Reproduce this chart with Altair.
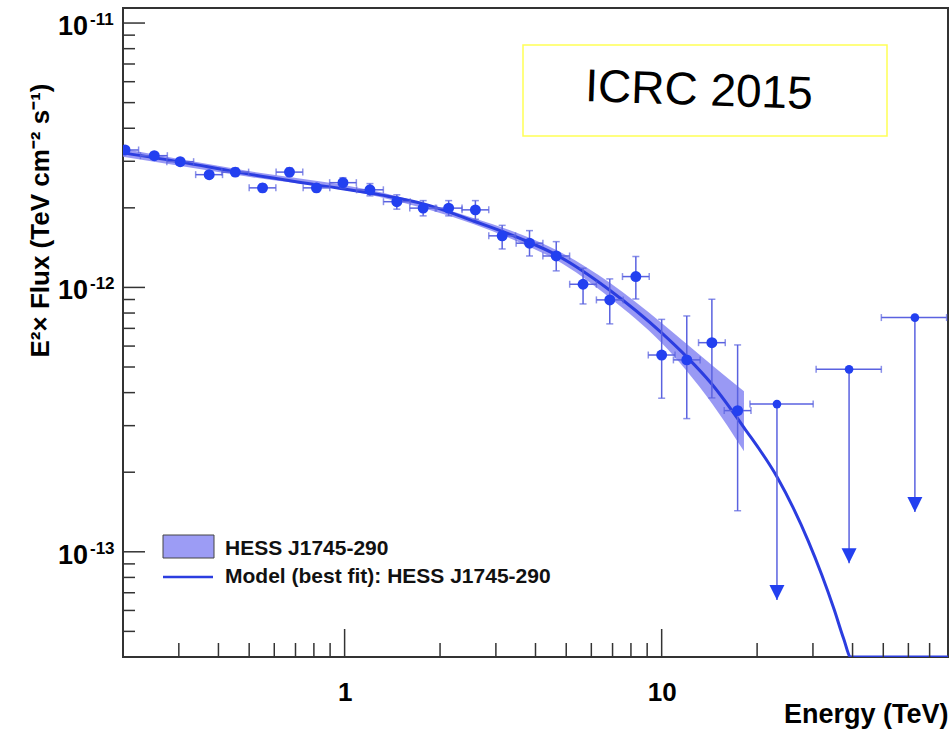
import altair as alt
import pandas as pd

# ---------------- data ----------------
energy = [0.203, 0.251, 0.303, 0.374, 0.452, 0.551, 0.670, 0.815, 0.988, 1.202,
          1.461, 1.769, 2.129, 2.585, 3.14, 3.83, 4.65, 5.65, 6.86, 8.29,
          10.0, 12.0, 14.4, 17.36]
energy_lo = [0.184, 0.227, 0.275, 0.339, 0.410, 0.500, 0.608, 0.740, 0.897, 1.091,
             1.326, 1.605, 1.932, 2.346, 2.849, 3.475, 4.220, 5.127, 6.225, 7.523,
             9.074, 10.89, 13.07, 15.75]
energy_hi = [0.224, 0.276, 0.334, 0.412, 0.498, 0.607, 0.738, 0.898, 1.089, 1.325,
             1.610, 1.949, 2.346, 2.849, 3.460, 4.221, 5.124, 6.226, 7.560, 9.136,
             11.02, 13.22, 15.87, 19.13]
flux = [3.31e-12, 3.15e-12, 2.99e-12, 2.67e-12, 2.73e-12, 2.38e-12, 2.73e-12, 2.38e-12, 2.49e-12, 2.34e-12,
        2.11e-12, 1.995e-12, 1.995e-12, 1.965e-12, 1.567e-12, 1.47e-12, 1.315e-12, 1.028e-12, 8.97e-13, 1.099e-12,
        5.55e-13, 5.32e-13, 6.18e-13, 3.42e-13]
flux_lo = [3.22e-12, 3.07e-12, 2.91e-12, 2.60e-12, 2.64e-12, 2.30e-12, 2.64e-12, 2.30e-12, 2.38e-12, 2.22e-12,
           1.977e-12, 1.865e-12, 1.865e-12, 1.811e-12, 1.398e-12, 1.315e-12, 1.155e-12, 8.66e-13, 7.28e-13, 9.05e-13,
           3.81e-13, 3.19e-13, 3.82e-13, 1.43e-13]
flux_hi = [3.40e-12, 3.23e-12, 3.07e-12, 2.74e-12, 2.83e-12, 2.46e-12, 2.83e-12, 2.46e-12, 2.60e-12, 2.47e-12,
           2.24e-12, 2.13e-12, 2.13e-12, 2.13e-12, 1.717e-12, 1.64e-12, 1.49e-12, 1.182e-12, 1.077e-12, 1.308e-12,
           7.57e-13, 7.80e-13, 9.02e-13, 6.06e-13]

# upper limits
ul_energy = [23.1, 39.0, 62.9]
ul_elo = [18.99, 30.7, 49.3]
ul_ehi = [30.05, 49.3, 79.2]
ul_flux = [3.62e-13, 4.90e-13, 7.69e-13]
ul_tip = [6.57e-14, 9.06e-14, 1.413e-13]

# best-fit model curve (below the frame it runs along the bottom)
curve_energy = [0.200, 0.303, 0.452, 0.815, 1.300, 1.778, 2.560, 3.606, 4.653, 6.845,
                10.0, 12.0, 14.39, 18.18, 23.12, 26.0, 29.0, 32.0, 35.0, 37.5, 39.5, 80.0]
curve_flux = [3.229e-12, 2.985e-12, 2.736e-12, 2.443e-12, 2.239e-12, 2.07e-12, 1.78e-12, 1.526e-12, 1.327e-12, 9.78e-13,
              6.73e-13, 5.46e-13, 4.31e-13, 2.95e-13, 1.918e-13, 1.466e-13, 1.098e-13, 8.17e-14, 6.05e-14, 4.69e-14,
              4.0e-14, 4.0e-14]

# confidence band
band_energy = [0.200, 0.452, 1.300, 2.560, 3.606, 4.653, 6.845, 10.0, 12.0, 14.39, 18.18]
band_lo = [3.119e-12, 2.666e-12, 2.191e-12, 1.733e-12, 1.47e-12, 1.271e-12, 9.165e-13, 6.16e-13, 4.83e-13, 3.65e-13, 2.40e-13]
band_hi = [3.344e-12, 2.808e-12, 2.289e-12, 1.827e-12, 1.585e-12, 1.386e-12, 1.044e-12, 7.34e-13, 6.11e-13, 5.09e-13, 4.05e-13]

# axis ticks
x_major = [1, 10]
x_minor = [0.3, 0.4, 0.5, 0.6, 0.7, 0.8, 0.9, 2, 3, 4, 5, 6, 7, 8, 9, 20, 30, 40, 50, 60, 70]
y_major = [1e-13, 1e-12, 1e-11]
y_major_sup = ["-13", "-12", "-11"]
y_minor = [5e-14, 6e-14, 7e-14, 8e-14, 9e-14,
           2e-13, 3e-13, 4e-13, 5e-13, 6e-13, 7e-13, 8e-13, 9e-13,
           2e-12, 3e-12, 4e-12, 5e-12, 6e-12, 7e-12, 8e-12, 9e-12]

legend_labels = ["HESS J1745-290", "Model (best fit): HESS J1745-290"]
annotation = "ICRC 2015"

# ---------------- styling ----------------
W, H = 825, 649
FONT = "Liberation Sans"
PT_COLOR = "#2340f0"
LINE_COLOR = "#2b3de0"
ERR_COLOR = "#5a62e0"
BAND_COLOR = "#8787f2"
TICK_COLOR = "#333333"

xs = alt.Scale(type="log", domain=[0.2, 80])
ys = alt.Scale(type="log", domain=[4e-14, 1.14e-11], clamp=True)

x_axis = alt.Axis(values=x_major, format="~g", ticks=False, domain=False, grid=False,
                  labelPadding=22, labelFontSize=26, labelFont=FONT, labelFontWeight="bold",
                  labelColor="black", title="Energy (TeV)", titleFont=FONT, titleFontSize=27,
                  titleFontWeight="bold", titleColor="black", titleAnchor="end", titleAlign="right",
                  titleX=W, titleY=65, titleBaseline="alphabetic")
y_axis = alt.Axis(labels=False, ticks=False, domain=False, grid=False,
                  title="E²× Flux (TeV cm⁻² s⁻¹)", titleFont=FONT, titleFontSize=26,
                  titleFontWeight="bold", titleColor="black", titleAngle=270,
                  titleX=-75, titleY=212, titleAlign="center", titleBaseline="alphabetic")


def X(f):
    return alt.X(f, scale=xs, axis=x_axis)


def Y(f):
    return alt.Y(f, scale=ys, axis=y_axis)


pts = pd.DataFrame({"e": energy, "elo": energy_lo, "ehi": energy_hi,
                    "f": flux, "flo": flux_lo, "fhi": flux_hi})
uls = pd.DataFrame({"e": ul_energy, "elo": ul_elo, "ehi": ul_ehi, "f": ul_flux, "tip": ul_tip})
curve = pd.DataFrame({"e": curve_energy, "f": curve_flux})
band = pd.DataFrame({"e": band_energy, "lo": band_lo, "hi": band_hi})
xcaps = pd.DataFrame({"e": energy_lo + energy_hi + ul_elo + ul_ehi,
                      "f": flux + flux + ul_flux + ul_flux})
ycaps = pd.DataFrame({"e": energy + energy, "f": flux_lo + flux_hi})
one = pd.DataFrame({"a": [0]})

band_layer = alt.Chart(band).mark_area(color=BAND_COLOR, opacity=0.85, clip=True,
                                       interpolate="monotone").encode(
    x=X("e:Q"), y=Y("lo:Q"), y2="hi:Q")

line_layer = alt.Chart(curve).mark_line(color=LINE_COLOR, strokeWidth=3, interpolate="monotone",
                                        clip=True).encode(x=X("e:Q"), y=Y("f:Q"))

xerr = alt.Chart(pts).mark_rule(color=ERR_COLOR, strokeWidth=1.5, clip=True).encode(
    x=X("elo:Q"), x2="ehi:Q", y=Y("f:Q"))
yerr = alt.Chart(pts).mark_rule(color=ERR_COLOR, strokeWidth=1.5, clip=True).encode(
    x=X("e:Q"), y=Y("flo:Q"), y2="fhi:Q")
xcap_layer = alt.Chart(xcaps).mark_tick(color=ERR_COLOR, orient="vertical", size=7, thickness=1.5,
                                        clip=True).encode(x=X("e:Q"), y=Y("f:Q"))
ycap_layer = alt.Chart(ycaps).mark_tick(color=ERR_COLOR, orient="horizontal", size=7, thickness=1.5,
                                        clip=True).encode(x=X("e:Q"), y=Y("f:Q"))

ul_h = alt.Chart(uls).mark_rule(color=ERR_COLOR, strokeWidth=1.5, clip=True).encode(
    x=X("elo:Q"), x2="ehi:Q", y=Y("f:Q"))
ul_v = alt.Chart(uls).mark_rule(color=ERR_COLOR, strokeWidth=1.5, clip=True).encode(
    x=X("e:Q"), y=Y("f:Q"), y2="tip:Q")
ul_head = alt.Chart(uls).mark_point(shape="M-1,-2L1,-2L0,0Z", filled=True, size=225, opacity=1,
                                    color=PT_COLOR, strokeWidth=0).encode(x=X("e:Q"), y=Y("tip:Q"))
ul_pt = alt.Chart(uls).mark_circle(size=75, opacity=1, color=PT_COLOR).encode(x=X("e:Q"), y=Y("f:Q"))

pt_layer = alt.Chart(pts).mark_circle(size=120, opacity=1, color=PT_COLOR, clip=True).encode(
    x=X("e:Q"), y=Y("f:Q"))


def xticks(vals, length):
    return alt.Chart(pd.DataFrame({"v": vals})).mark_rule(color=TICK_COLOR, strokeWidth=1.5).encode(
        x=X("v:Q"), y=alt.value(H), y2=alt.value(H - length))


def yticks(vals, length):
    return alt.Chart(pd.DataFrame({"v": vals})).mark_rule(color=TICK_COLOR, strokeWidth=1.5).encode(
        y=Y("v:Q"), x=alt.value(0), x2=alt.value(length))


ylab = pd.DataFrame({"v": y_major, "base": ["10"] * 3, "sup": y_major_sup})
ylab_base = alt.Chart(ylab).mark_text(font=FONT, fontSize=27, fontWeight="bold", color="black",
                                      align="right", baseline="middle", dy=4).encode(
    y=Y("v:Q"), x=alt.value(-35), text="base:N")
ylab_sup = alt.Chart(ylab).mark_text(font=FONT, fontSize=17, fontWeight="bold", color="black",
                                     align="left", baseline="middle", dy=-3).encode(
    y=Y("v:Q"), x=alt.value(-33), text="sup:N")

box = alt.Chart(one).mark_rect(fill="white", stroke="#ffff55", strokeWidth=1.5).encode(
    x=alt.value(400), x2=alt.value(764), y=alt.value(37), y2=alt.value(128))
box_text = alt.Chart(one).mark_text(text=annotation, font=FONT, fontSize=46, color="black",
                                    align="center", baseline="middle", angle=2).encode(
    x=alt.value(576), y=alt.value(83))

leg_rect = alt.Chart(one).mark_rect(fill="#9c9cf5", stroke="#444444", strokeWidth=1).encode(
    x=alt.value(40), x2=alt.value(91), y=alt.value(527), y2=alt.value(550))
leg_line = alt.Chart(one).mark_rule(color=LINE_COLOR, strokeWidth=2.5).encode(
    x=alt.value(40), x2=alt.value(90), y=alt.value(569))
leg_t1 = alt.Chart(one).mark_text(text=legend_labels[0], font=FONT, fontSize=21, fontWeight="bold",
                                  color="#111111", align="left", baseline="middle").encode(
    x=alt.value(102), y=alt.value(541))
leg_t2 = alt.Chart(one).mark_text(text=legend_labels[1], font=FONT, fontSize=21, fontWeight="bold",
                                  color="#111111", align="left", baseline="middle").encode(
    x=alt.value(102), y=alt.value(569))

chart = alt.layer(
    band_layer, line_layer, xerr, yerr, xcap_layer, ycap_layer,
    ul_h, ul_v, ul_head, ul_pt, pt_layer,
    xticks(x_major, 28), xticks(x_minor, 14), yticks(y_major, 22), yticks(y_minor, 12),
    ylab_base, ylab_sup, box, box_text, leg_rect, leg_line, leg_t1, leg_t2,
).properties(
    width=W, height=H,
    autosize=alt.AutoSizeParams(type="none"),
    padding={"left": 123, "top": 8, "right": 3, "bottom": 74},
    background="white",
).configure_view(stroke="#333333", strokeWidth=2)

chart.save("out.html", embed_options={"renderer": "svg", "actions": False})
